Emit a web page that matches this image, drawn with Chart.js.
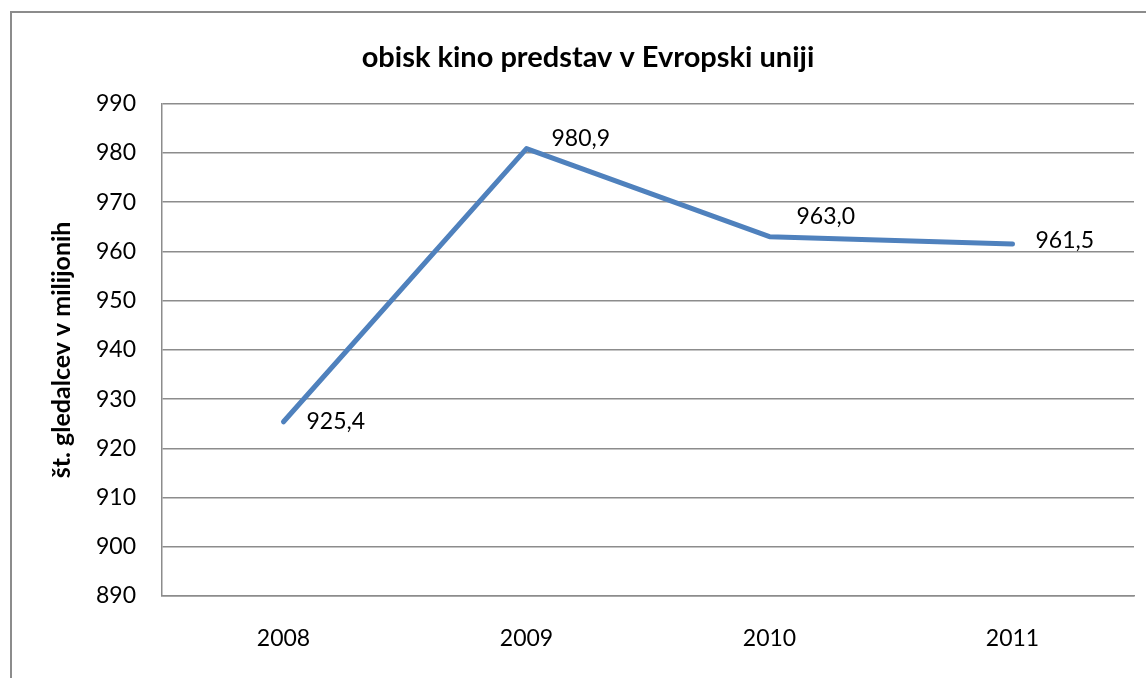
<!DOCTYPE html>
<html lang="sl">
<head>
    <meta charset="UTF-8">
    <title>obisk kino predstav v Evropski uniji</title>
    <script src="https://cdn.jsdelivr.net/npm/chart.js"></script>
    <style>
        html, body {
            margin: 0;
            padding: 0;
            background-color: #fff;
            overflow: hidden;
        }
        .frame {
            position: absolute;
            left: 10px;
            top: 11px;
            width: 2000px;
            height: 2000px;
            border-top: 2px solid #8c8c8c;
            border-left: 2px solid #8c8c8c;
        }
        canvas {
            position: absolute;
            left: 0;
            top: 0;
        }
    </style>
</head>
<body>
    <div class="frame"></div>
    <canvas id="myChart" width="1146" height="678"></canvas>

    <script>
        // podatki
        const years = ['2008', '2009', '2010', '2011'];
        const visitors = [925.4, 980.9, 963.0, 961.5];
        const yMin = 890;
        const yMax = 990;
        const yStep = 10;

        const fontFamily = 'Lato, "Open Sans", sans-serif';

        // oznake vrednosti desno od točk (ročno premaknjene kot v Excelu)
        const labelNudge = [[23, 0], [25, -10], [27, -20], [23, -3]];

        const valueLabels = {
            id: 'valueLabels',
            afterDatasetsDraw(chart) {
                const ctx = chart.ctx;
                const meta = chart.getDatasetMeta(0);
                ctx.save();
                ctx.font = '23px ' + fontFamily;
                ctx.fillStyle = '#000';
                ctx.textAlign = 'left';
                ctx.textBaseline = 'middle';
                meta.data.forEach((pt, i) => {
                    const txt = visitors[i].toFixed(1).replace('.', ',');
                    ctx.fillText(txt, pt.x + labelNudge[i][0], pt.y + labelNudge[i][1]);
                });
                ctx.restore();
            }
        };

        const ctx = document.getElementById('myChart').getContext('2d');
        const myChart = new Chart(ctx, {
            type: 'line',
            data: {
                labels: years,
                datasets: [{
                    label: 'obisk',
                    data: visitors,
                    borderColor: '#4f81bd',
                    borderWidth: 5,
                    borderCapStyle: 'round',
                    borderJoinStyle: 'round',
                    pointRadius: 0,
                    pointHoverRadius: 0,
                    fill: false,
                    tension: 0
                }]
            },
            options: {
                responsive: false,
                animation: false,
                layout: {
                    padding: { left: 42, right: 12, top: 0, bottom: 0 }
                },
                scales: {
                    x: {
                        offset: true,
                        grid: { display: false, drawTicks: false },
                        border: { display: true, color: '#8c8c8c', width: 1.5 },
                        ticks: {
                            color: '#000',
                            padding: 29,
                            font: { family: fontFamily, size: 23 }
                        },
                        afterFit(scale) { scale.height = 82; }
                    },
                    y: {
                        min: yMin,
                        max: yMax,
                        grid: { color: '#8c8c8c', lineWidth: 1.5, drawTicks: false },
                        border: { display: true, color: '#8c8c8c', width: 1.5 },
                        ticks: {
                            stepSize: yStep,
                            color: '#000',
                            padding: 26,
                            font: { family: fontFamily, size: 23 }
                        },
                        title: {
                            display: true,
                            text: 'št. gledalcev v milijonih',
                            color: '#000',
                            padding: { top: 5, bottom: 0 },
                            font: { family: fontFamily, size: 25, weight: 'bold' }
                        },
                        afterFit(scale) { scale.width = 120; }
                    }
                },
                plugins: {
                    legend: { display: false },
                    tooltip: { enabled: false },
                    title: {
                        display: true,
                        text: 'obisk kino predstav v Evropski uniji',
                        color: '#000',
                        padding: { top: 40, bottom: 29 },
                        font: { family: fontFamily, size: 29, weight: 'bold' }
                    }
                }
            },
            plugins: [valueLabels]
        });
    </script>
</body>
</html>
